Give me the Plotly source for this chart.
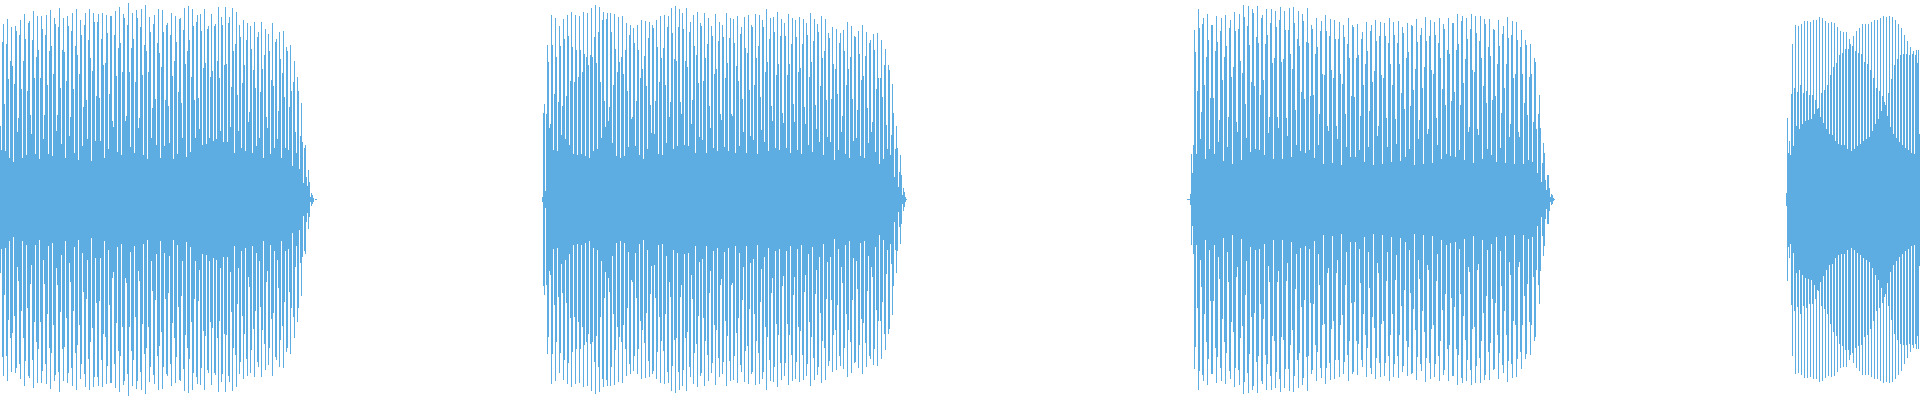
import plotly.graph_objects as go

COLOR = "rgba(93,173,226,0.999)"

# First sample column of each burst
burst_starts = [0, 542, 1187, 1786]

# Sample peak amplitude per column
burst1 = [
    220,148,473,528,286,145,468,543,361,125,415,518,400,113,348,520,505,203,245,493,
    538,333,125,415,558,483,135,325,530,535,253,196,480,565,366,136,428,550,448,122,
    366,550,513,181,253,493,553,343,138,445,568,460,130,376,544,526,205,255,518,576,
    336,166,448,544,443,124,355,550,520,190,248,505,560,333,141,460,571,435,120,376,
    538,493,160,278,523,561,298,181,478,571,426,115,385,561,532,176,310,532,558,305,
    175,481,561,403,125,411,553,499,151,316,550,550,235,217,493,565,370,142,454,577,
    469,133,382,556,544,235,250,523,589,382,157,454,559,481,139,352,568,544,214,244,
    517,571,373,133,463,583,445,122,382,547,502,184,274,526,553,301,163,469,571,439,
    124,397,568,502,160,298,523,529,280,169,493,559,370,121,415,550,472,136,322,541,
    544,289,184,508,574,406,127,445,580,478,142,367,571,520,298,184,532,553,304,211,
    556,505,163,394,571,409,166,511,520,184,
    367,556,385,175,520,526,181,415,577,364,205,547,523,172,403,577,406,172,529,547,
    217,337,574,445,139,466,562,313,205,523,487,154,349,538,403,145,478,529,232,262,
    520,451,139,388,532,334,160,487,502,184,322,532,391,124,433,511,247,214,496,445,
    136,358,529,340,154,472,481,181,265,502,421,124,379,505,307,154,457,445,148,277,
    463,325,100,352,415,202,139,367,325,91,190,289,172,49,154,163,67,40,88,52,
    7,19,13,6,0,2,2,
]

burst2 = [
    8,259,286,25,256,463,412,214,226,553,463,148,316,544,427,145,292,520,460,193,
    280,541,481,181,310,553,490,163,355,562,457,136,352,553,448,133,367,550,448,136,
    382,562,436,130,427,559,403,124,433,574,427,145,487,583,409,151,502,577,352,184,
    538,562,295,217,541,559,235,277,559,502,169,343,556,451,130,382,547,412,124,427,
    550,376,130,448,529,325,157,493,523,241,247,514,469,160,295,523,448,133,364,538,
    391,121,430,535,340,151,484,532,283,199,523,514,196,295,538,457,136,352,550,424,
    133,454,553,343,169,517,550,247,292,574,499,151,421,580,415,160,517,571,292,256,
    559,511,163,415,574,397,160,502,532,226,298,553,460,139,433,562,349,187,529,520,
    178,355,559,424,139,466,544,280,214,520,490,154,376,556,391,145,475,532,256,238,
    523,
    487,157,364,559,409,145,484,544,256,250,541,469,139,400,550,355,160,496,517,301,
    202,547,454,139,439,553,328,190,523,517,178,343,556,424,136,460,553,307,208,538,
    517,172,382,571,412,145,481,544,280,235,547,502,154,373,562,406,148,490,541,259,
    229,529,490,154,373,556,406,139,466,544,286,232,538,487,148,382,547,394,136,466,
    541,277,226,529,493,163,367,559,412,142,475,541,283,211,526,502,172,340,550,424,
    133,445,541,298,187,499,484,172,301,517,406,118,391,511,316,148,469,499,202,250,
    508,445,136,343,532,391,124,427,520,301,175,490,487,184,268,505,436,130,358,523,
    370,124,430,502,274,169,469,478,202,232,496,448,142,331,499,364,106,364,478,307,
    121,403,451,223,151,403,388,133,193,346,259,67,151,220,154,37,82,133,73,13,
    34,22,7,1,
]

burst3 = [
    1,1,1,16,136,79,163,508,442,136,325,571,514,181,262,526,544,343,121,427,
    556,478,151,304,523,523,304,136,445,550,472,172,238,505,544,358,115,427,553,460,
    157,247,514,538,367,106,397,562,505,232,202,511,556,415,118,379,583,547,286,184,
    520,580,463,142,352,571,559,340,151,487,580,469,148,313,544,553,358,133,466,571,
    493,199,247,529,571,409,121,424,565,517,247,214,538,577,412,121,421,565,508,244,
    190,508,574,436,127,391,577,529,268,163,481,565,460,145,322,556,535,301,139,472,
    574,469,148,310,523,511,313,124,436,544,457,163,256,505,535,376,106,373,553,505,
    220,205,490,541,388,109,364,538,481,220,181,481,532,376,103,346,523,487,256,157,
    466,544,424,127,310,523,517,307,127,424,526,433,148,250,481,502,343,112,406,532,
    445,157,265,
    505,523,352,103,385,538,475,190,220,490,532,373,106,364,529,490,244,157,469,544,
    406,112,343,532,493,241,166,469,535,406,115,319,517,499,271,127,424,529,442,151,
    280,523,520,328,103,391,541,472,181,238,493,514,334,106,397,547,475,196,211,490,
    538,388,109,376,532,493,244,163,469,544,424,121,331,526,511,283,136,448,544,436,
    130,295,529,529,322,127,448,556,466,148,283,535,550,349,118,421,544,481,202,217,
    511,556,388,109,382,550,499,211,193,475,550,424,121,340,541,526,289,151,457,541,
    430,133,298,511,508,310,112,406,538,460,154,259,496,520,334,109,406,547,484,187,
    226,493,535,364,106,376,532,478,202,187,457,508,376,106,289,478,463,253,118,367,
    466,376,112,232,424,412,211,79,256,313,214,52,109,169,139,58,28,73,73,34,
    7,16,13,4,1,
]

burst4 = [
    20,244,141,175,133,316,468,160,334,523,220,322,520,211,343,526,226,319,535,235,
    325,535,238,313,532,241,313,538,256,298,538,271,274,547,247,319,544,229,328,535,
    211,343,529,196,373,532,193,397,529,175,409,517,166,433,505,163,439,502,163,451,
    502,151,451,481,466,145,460,490,151,445,505,160,439,514,166,436,526,175,412,526,
    181,406,526,187,388,532,205,364,538,226,334,538,241,325,544,265,310,550,292,283,
    547,250,319,550,217,361,547,196,403,538,184,421,526,172,433,514,163,436,493,154,
    436,475,148,433,457,139,436,445,136,433,448,409,448,198,
]

bursts = [burst1, burst2, burst3, burst4]

columns = []
amplitudes = []
for start, burst in zip(burst_starts, bursts):
    for offset, amp in enumerate(burst):
        column = start + offset
        if column < 1920:
            columns.append(column + 0.5)
            amplitudes.append(amp)

fig = go.Figure(
    go.Bar(
        x=columns,
        y=[2 * a for a in amplitudes],
        base=[-a for a in amplitudes],
        width=1,
        marker=dict(color=COLOR, line=dict(width=0)),
        hoverinfo="skip",
    )
)
fig.update_layout(
    width=1920,
    height=400,
    margin=dict(l=0, r=0, t=0, b=0),
    plot_bgcolor="white",
    paper_bgcolor="white",
    showlegend=False,
    bargap=0,
    xaxis=dict(range=[0, 1920], visible=False, fixedrange=True),
    yaxis=dict(range=[-601, 599], visible=False, fixedrange=True),
)
fig.write_html(
    "out.html",
    config=dict(displayModeBar=False),
    post_script="document.body.style.margin='0';document.body.style.overflow='hidden';",
)
